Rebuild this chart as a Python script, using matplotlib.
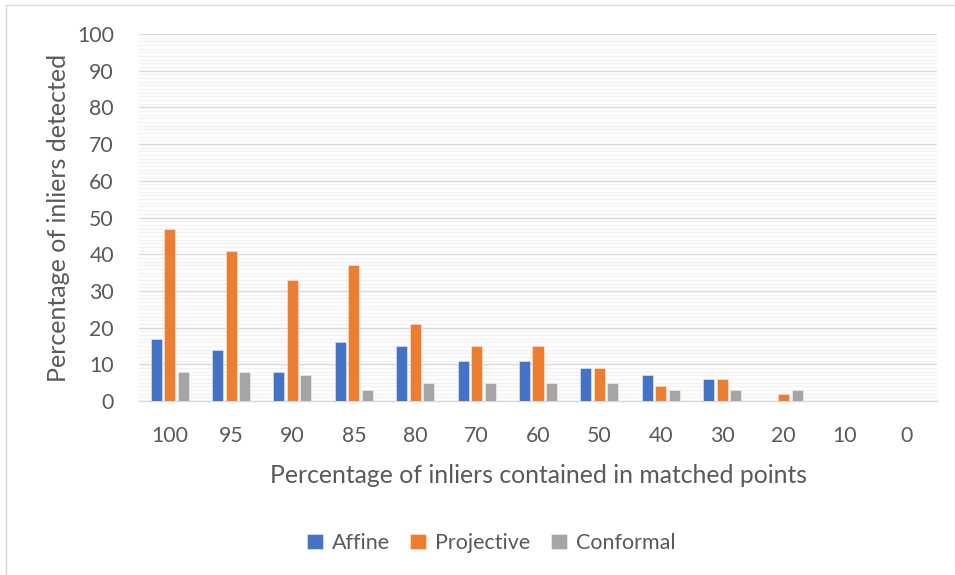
import matplotlib
matplotlib.use("Agg")
import matplotlib.pyplot as plt
import numpy as np
from matplotlib.patches import Rectangle

categories = ["100", "95", "90", "85", "80", "70", "60", "50", "40", "30", "20", "10", "0"]
affine = [17, 14, 8, 16, 15, 11, 11, 9, 7, 6, 0, 0, 0]
projective = [47, 41, 33, 37, 21, 15, 15, 9, 4, 6, 2, 0, 0]
conformal = [8, 8, 7, 3, 5, 5, 5, 5, 3, 3, 3, 0, 0]
series_names = ["Affine", "Projective", "Conformal"]
colors = ["#4472C4", "#ED7D31", "#A5A5A5"]

plt.rcParams["font.family"] = ["Lato", "DejaVu Sans"]
text_color = "#595959"

fig = plt.figure(figsize=(9.55, 5.75), dpi=100)
ax = fig.add_axes([139 / 955, 1 - 401 / 575, (937 - 139) / 955, (401 - 34) / 575])

# chart border
fig.patches.append(Rectangle((6 / 955, -0.01), 1.0, 1 - 5 / 575 + 0.01,
                             transform=fig.transFigure, fill=False,
                             edgecolor="#D9D9D9", linewidth=1.0))

x = np.arange(len(categories))
width = 0.18
step = 0.22
for i, (vals, name, c) in enumerate(zip([affine, projective, conformal], series_names, colors)):
    ax.bar(x + (i - 1) * step, vals, width, color=c, label=name,
           edgecolor=matplotlib.colors.to_rgba("white", 0.5), linewidth=0.6, zorder=3)

ax.set_xlim(-0.5, len(categories) - 0.5)
ax.set_ylim(0, 100)
ax.set_yticks(np.arange(0, 101, 10))
ax.set_yticks(np.arange(0, 101, 1), minor=True)
ax.grid(which="minor", axis="y", color="#F2F2F2", linewidth=1.0, zorder=0)
ax.grid(which="major", axis="y", color="#D9D9D9", linewidth=1.0, zorder=1)
ax.set_xticks(x)
ax.set_xticklabels(categories)

for s in ["top", "right", "left"]:
    ax.spines[s].set_visible(False)
ax.spines["bottom"].set_color("#D9D9D9")
ax.spines["bottom"].set_linewidth(1.0)
ax.tick_params(axis="both", which="both", length=0, colors=text_color, labelsize=15.3)
ax.tick_params(axis="y", pad=18)
ax.tick_params(axis="x", pad=18)

ax.set_xlabel("Percentage of inliers contained in matched points", fontsize=17.8,
              color=text_color, labelpad=13)
ax.set_ylabel("Percentage of inliers detected", fontsize=18, color=text_color, labelpad=5)

leg = fig.legend(loc="center", bbox_to_anchor=(491 / 955, 1 - 543 / 575), ncol=3,
                 frameon=False, fontsize=15.5, handlelength=0.75, handleheight=0.75,
                 columnspacing=0.95, handletextpad=0.4)
for t in leg.get_texts():
    t.set_color(text_color)

fig.savefig("out.png", dpi=100)
